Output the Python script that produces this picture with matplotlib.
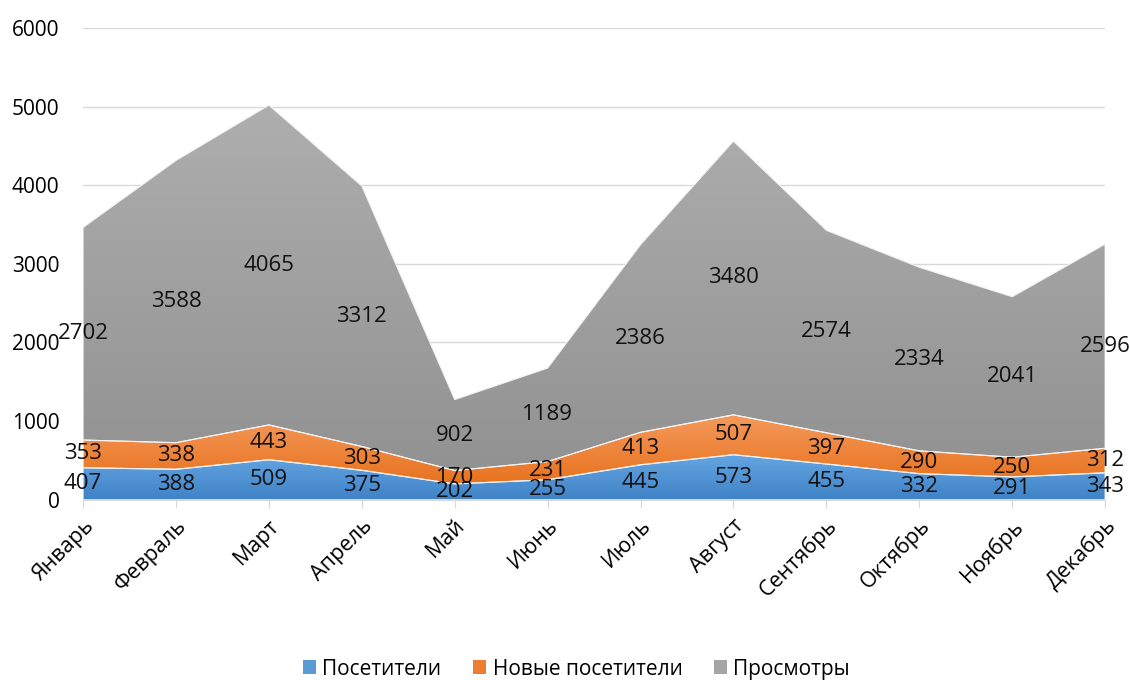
import numpy as np
import matplotlib
matplotlib.use("Agg")
import matplotlib.pyplot as plt
from matplotlib.colors import LinearSegmentedColormap
from matplotlib.patches import Patch

plt.rcParams['font.family'] = ['Open Sans', 'DejaVu Sans']

months = ["Январь", "Февраль", "Март", "Апрель", "Май", "Июнь", "Июль",
          "Август", "Сентябрь", "Октябрь", "Ноябрь", "Декабрь"]
visitors = [407, 388, 509, 375, 202, 255, 445, 573, 455, 332, 291, 343]
new_visitors = [353, 338, 443, 303, 170, 231, 413, 507, 397, 290, 250, 312]
views = [2702, 3588, 4065, 3312, 902, 1189, 2386, 3480, 2574, 2334, 2041, 2596]
series_names = ["Посетители", "Новые посетители", "Просмотры"]

# gradient colours (top, bottom) and legend colour
grads = [("#65A6E2", "#3F82C6"), ("#F49A5C", "#E8721E"), ("#AEAEAE", "#929292")]
legend_cols = ["#5B9BD5", "#ED7D31", "#A5A5A5"]

fig = plt.figure(figsize=(11.3, 6.8), dpi=100)
ax = fig.add_axes([0.0735, 0.265, 0.9045, 0.694])

x = np.arange(len(months))
layers = [np.array(visitors), np.array(new_visitors), np.array(views)]
base = np.zeros(len(months))
for vals, (ctop, cbot), name in zip(layers, grads, series_names):
    top = base + vals
    poly = ax.fill_between(x, base, top, color="none", edgecolor="#F2F2F2",
                           linewidth=0.8, zorder=2)
    cmap = LinearSegmentedColormap.from_list("g", [cbot, ctop])
    grad = np.linspace(0, 1, 256).reshape(-1, 1)
    im = ax.imshow(grad, cmap=cmap, origin="lower", aspect="auto",
                   extent=[x[0], x[-1], base.min(), top.max()], zorder=1)
    im.set_clip_path(poly.get_paths()[0], transform=ax.transData)
    for xi, b, v in zip(x, base, vals):
        ax.text(xi, b + v / 2, str(v), ha="center", va="center",
                fontsize=16, color="#111111", zorder=4)
    base = top

ax.set_xlim(x[0], x[-1])
ax.set_ylim(0, 6000)
ax.set_yticks(range(0, 6001, 1000))
ax.set_xticks(x)
ax.set_xticklabels(months, rotation=45, ha="right", rotation_mode="anchor",
                   fontsize=15.5)
ax.tick_params(axis="y", length=0, labelsize=15, pad=17)
ax.tick_params(axis="x", length=6, color="#D9D9D9", pad=5)
ax.grid(axis="y", color="#D9D9D9", linewidth=1, zorder=0)
ax.set_axisbelow(True)
for s in ["top", "right", "left"]:
    ax.spines[s].set_visible(False)
ax.spines["bottom"].set_color("#D9D9D9")

handles = [Patch(facecolor=c, edgecolor="none") for c in legend_cols]
fig.legend(handles, series_names, loc="lower center", ncol=3, frameon=False,
           fontsize=15, bbox_to_anchor=(0.51, -0.027), handlelength=0.65,
           handleheight=0.65, handletextpad=0.3, columnspacing=1.5)

fig.savefig("out.png", dpi=100)
